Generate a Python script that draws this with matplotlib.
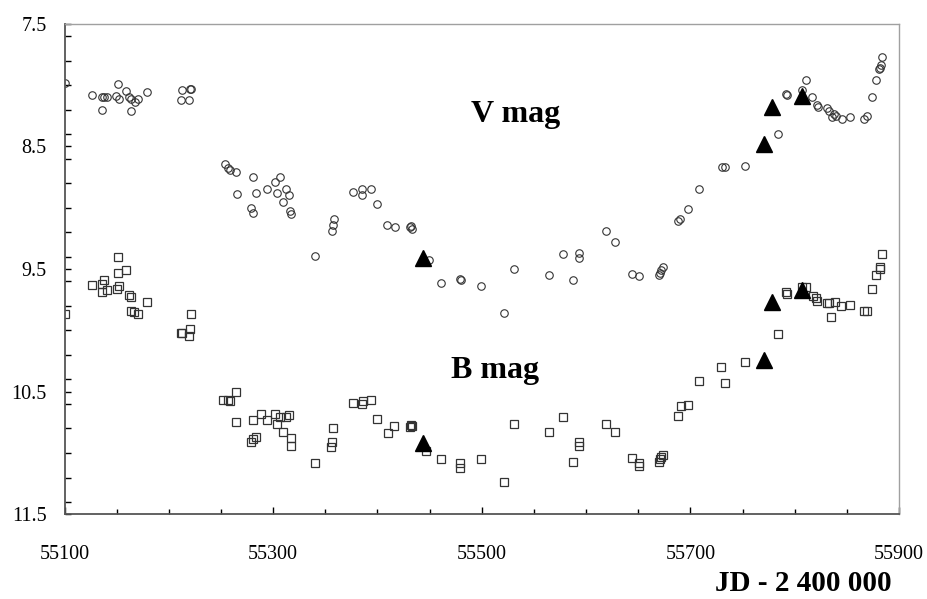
import matplotlib
matplotlib.use("Agg")
import matplotlib.pyplot as plt
from matplotlib.ticker import MultipleLocator

plt.rcParams['font.family'] = ['Liberation Serif', 'DejaVu Serif']

v_jd = [55100, 55126, 55136, 55138, 55141, 55136, 55151, 55149, 55152, 55159, 55162, 55164, 55164,
        55168, 55170, 55179, 55212, 55213, 55219, 55220, 55221, 55254, 55257, 55259, 55264, 55265,
        55281, 55279, 55281, 55284, 55294, 55302, 55304, 55307, 55309, 55312, 55315, 55316, 55317,
        55340, 55356, 55357, 55358, 55377, 55385, 55385, 55394, 55400, 55409, 55417, 55431, 55432,
        55433, 55449, 55461, 55479, 55480, 55499, 55521, 55531, 55564, 55578, 55587, 55593, 55593,
        55619, 55628, 55644, 55651, 55670, 55671, 55672, 55674, 55688, 55690, 55698, 55708, 55730,
        55733, 55752, 55784, 55792, 55793, 55807, 55811, 55817, 55821, 55822, 55831, 55833, 55836,
        55838, 55840, 55845, 55853, 55866, 55869, 55874, 55878, 55881, 55882, 55883, 55884]
v_mag = [7.98, 8.08, 8.10, 8.10, 8.10, 8.20, 7.99, 8.09, 8.11, 8.05, 8.10, 8.11, 8.21,
         8.14, 8.11, 8.06, 8.12, 8.04, 8.12, 8.03, 8.03, 8.64, 8.68, 8.69, 8.71, 8.89,
         8.75, 9.00, 9.04, 8.88, 8.85, 8.79, 8.88, 8.75, 8.95, 8.85, 8.90, 9.03, 9.05,
         9.39, 9.19, 9.14, 9.09, 8.87, 8.85, 8.90, 8.85, 8.97, 9.14, 9.16, 9.16, 9.15,
         9.17, 9.43, 9.61, 9.58, 9.59, 9.64, 9.86, 9.50, 9.55, 9.38, 9.59, 9.37, 9.41,
         9.19, 9.28, 9.54, 9.56, 9.55, 9.53, 9.51, 9.48, 9.11, 9.09, 9.01, 8.85, 8.67,
         8.67, 8.66, 8.40, 8.07, 8.08, 8.04, 7.96, 8.10, 8.16, 8.18, 8.19, 8.21, 8.26,
         8.24, 8.25, 8.28, 8.26, 8.28, 8.25, 8.10, 7.96, 7.87, 7.86, 7.84, 7.77]

b_jd = [55100, 55126, 55136, 55136, 55138, 55141, 55151, 55151, 55150, 55152, 55159, 55162, 55164,
        55164, 55167, 55170, 55179, 55212, 55213, 55219, 55220, 55221, 55252, 55257, 55259, 55264,
        55264, 55281, 55279, 55281, 55284, 55288, 55294, 55302, 55304, 55307, 55309, 55312, 55315,
        55317, 55317, 55340, 55355, 55356, 55357, 55377, 55385, 55386, 55394, 55400, 55410, 55416,
        55431, 55432, 55433, 55447, 55461, 55479, 55479, 55499, 55521, 55531, 55564, 55578, 55587,
        55593, 55593, 55619, 55628, 55644, 55651, 55651, 55670, 55671, 55672, 55674, 55688, 55691,
        55698, 55708, 55729, 55733, 55752, 55784, 55792, 55793, 55807, 55811, 55818, 55820, 55821,
        55831, 55833, 55835, 55839, 55844, 55853, 55866, 55869, 55874, 55878, 55882, 55882, 55884]
b_mag = [9.87, 9.63, 9.62, 9.69, 9.59, 9.67, 9.40, 9.53, 9.66, 9.64, 9.51, 9.71, 9.73,
         9.84, 9.85, 9.87, 9.77, 10.02, 10.02, 10.05, 9.99, 9.87, 10.57, 10.57, 10.58, 10.50,
         10.75, 10.73, 10.91, 10.89, 10.87, 10.68, 10.73, 10.68, 10.76, 10.71, 10.83, 10.71, 10.69,
         10.88, 10.94, 11.08, 10.95, 10.91, 10.80, 10.59, 10.60, 10.58, 10.57, 10.72, 10.84, 10.78,
         10.79, 10.77, 10.78, 10.98, 11.05, 11.08, 11.12, 11.05, 11.24, 10.76, 10.83, 10.71, 11.07,
         10.91, 10.94, 10.76, 10.83, 11.04, 11.08, 11.11, 11.07, 11.05, 11.03, 11.02, 10.70, 10.62,
         10.61, 10.41, 10.30, 10.43, 10.26, 10.03, 9.69, 9.70, 9.65, 9.65, 9.72, 9.74, 9.76,
         9.78, 9.78, 9.89, 9.77, 9.80, 9.79, 9.84, 9.84, 9.66, 9.55, 9.50, 9.48, 9.38]

tri_v_jd = [55444, 55771, 55778, 55807]
tri_v_mag = [9.41, 8.48, 8.18, 8.09]
tri_b_jd = [55444, 55771, 55778, 55807]
tri_b_mag = [10.92, 10.24, 9.77, 9.67]

x_ticks = [55100, 55300, 55500, 55700, 55900]
y_ticks = [7.5, 8.5, 9.5, 10.5, 11.5]

fig = plt.figure(figsize=(9.27, 5.99), dpi=100)
ax = fig.add_axes([0.0696, 0.1414, 0.9002, 0.819])

ax.plot(v_jd, v_mag, linestyle='none', marker='o', ms=5.4, mfc='none', mec='#333333', mew=0.8)
ax.plot(b_jd, b_mag, linestyle='none', marker='s', ms=5.2, mfc='none', mec='#333333', mew=0.9)
ax.plot(tri_v_jd, tri_v_mag, linestyle='none', marker='^', ms=11, color='black')
ax.plot(tri_b_jd, tri_b_mag, linestyle='none', marker='^', ms=11, color='black')

ax.set_xlim(55100, 55900)
ax.set_ylim(11.5, 7.5)
ax.set_xticks(x_ticks)
ax.set_yticks(y_ticks)
ax.set_xticklabels([str(t) for t in x_ticks])
ax.set_yticklabels([str(t) for t in y_ticks])
ax.xaxis.set_minor_locator(MultipleLocator(50))
ax.yaxis.set_minor_locator(MultipleLocator(0.2))

ax.tick_params(axis='x', which='both', direction='in', labelsize=14.5, pad=22, colors='black')
ax.tick_params(axis='x', which='major', length=5, width=1)
ax.tick_params(axis='x', which='minor', length=3.5, width=1)
ax.tick_params(axis='y', which='both', direction='in', labelsize=14.5, pad=13, length=4, width=1)

for side in ['left', 'bottom']:
    ax.spines[side].set_color('#555555')
    ax.spines[side].set_linewidth(1.3)
for side in ['top', 'right']:
    ax.spines[side].set_color('#a0a0a0')
    ax.spines[side].set_linewidth(1.0)

ax.text(55532, 8.30, 'V mag', fontsize=23, fontweight='bold', ha='center', va='baseline')
ax.text(55513, 10.39, 'B mag', fontsize=23, fontweight='bold', ha='center', va='baseline')

fig.text(803 / 927, 0.003, 'JD - 2 400 000', fontsize=21, fontweight='bold',
         ha='center', va='bottom')

fig.savefig('out.png', dpi=100)
